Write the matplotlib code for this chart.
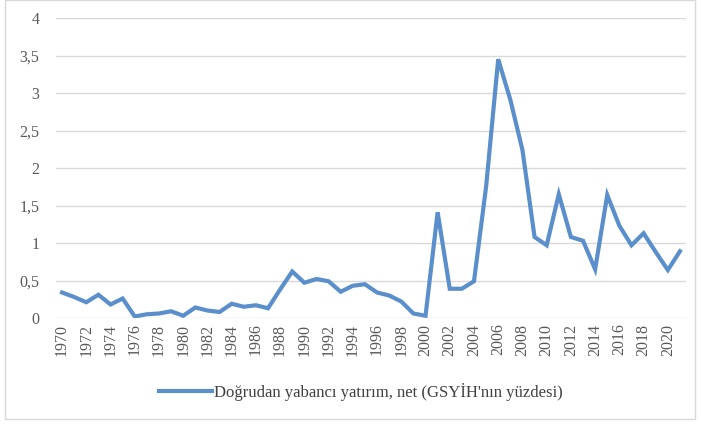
import matplotlib.pyplot as plt
import numpy as np
from matplotlib.patches import Rectangle

years = list(range(1970, 2022))
fdi = [0.34, 0.28, 0.21, 0.31, 0.18, 0.26, 0.02, 0.05, 0.06, 0.09,
       0.03, 0.14, 0.10, 0.08, 0.19, 0.15, 0.17, 0.13, 0.38, 0.62,
       0.47, 0.52, 0.49, 0.35, 0.43, 0.45, 0.34, 0.30, 0.22, 0.06,
       0.03, 1.41, 0.39, 0.39, 0.49, 1.75, 3.45, 2.91, 2.24, 1.08,
       0.97, 1.65, 1.08, 1.03, 0.65, 1.64, 1.23, 0.97, 1.13, 0.88,
       0.64, 0.89]
label = "Doğrudan yabancı yatırım, net (GSYİH'nın yüzdesi)"
yticks = [0, 0.5, 1, 1.5, 2, 2.5, 3, 3.5, 4]
ytick_labels = ["0", "0,5", "1", "1,5", "2", "2,5", "3", "3,5", "4"]

plt.rcParams['font.family'] = ['Liberation Serif', 'DejaVu Serif']

fig = plt.figure(figsize=(7.01, 4.24), dpi=100)
ax = fig.add_axes([56 / 701, 106 / 424, 630 / 701, 300 / 424])

x = np.arange(len(years))
ax.plot(x, fdi, color='#5b8fcc', lw=3, label=label, solid_joinstyle='miter')

ax.set_xlim(-0.5, len(years) - 0.5)
ax.set_ylim(0, 4)
ax.set_yticks(yticks)
ax.set_yticklabels(ytick_labels)
ax.set_xticks(x[::2])
ax.set_xticklabels([str(y) for y in years[::2]], rotation=90)
ax.tick_params(axis='both', length=0, colors='#595959', labelsize=11.5)
ax.tick_params(axis='y', pad=12)
ax.tick_params(axis='x', pad=4)
ax.grid(axis='y', color='#d9d9d9', lw=1)
ax.set_axisbelow(True)
for s in ax.spines.values():
    s.set_visible(False)

fig.legend(loc='center', bbox_to_anchor=(0.515, 0.075), frameon=False,
           fontsize=12, handlelength=3.2, handletextpad=0.1,
           labelcolor='#404040')

fig.patches.append(Rectangle((5 / 701, 5 / 424), 690 / 701, 419 / 424,
                             transform=fig.transFigure, fill=False,
                             edgecolor='#d9d9d9', lw=1))

fig.savefig('out.png', dpi=100)
